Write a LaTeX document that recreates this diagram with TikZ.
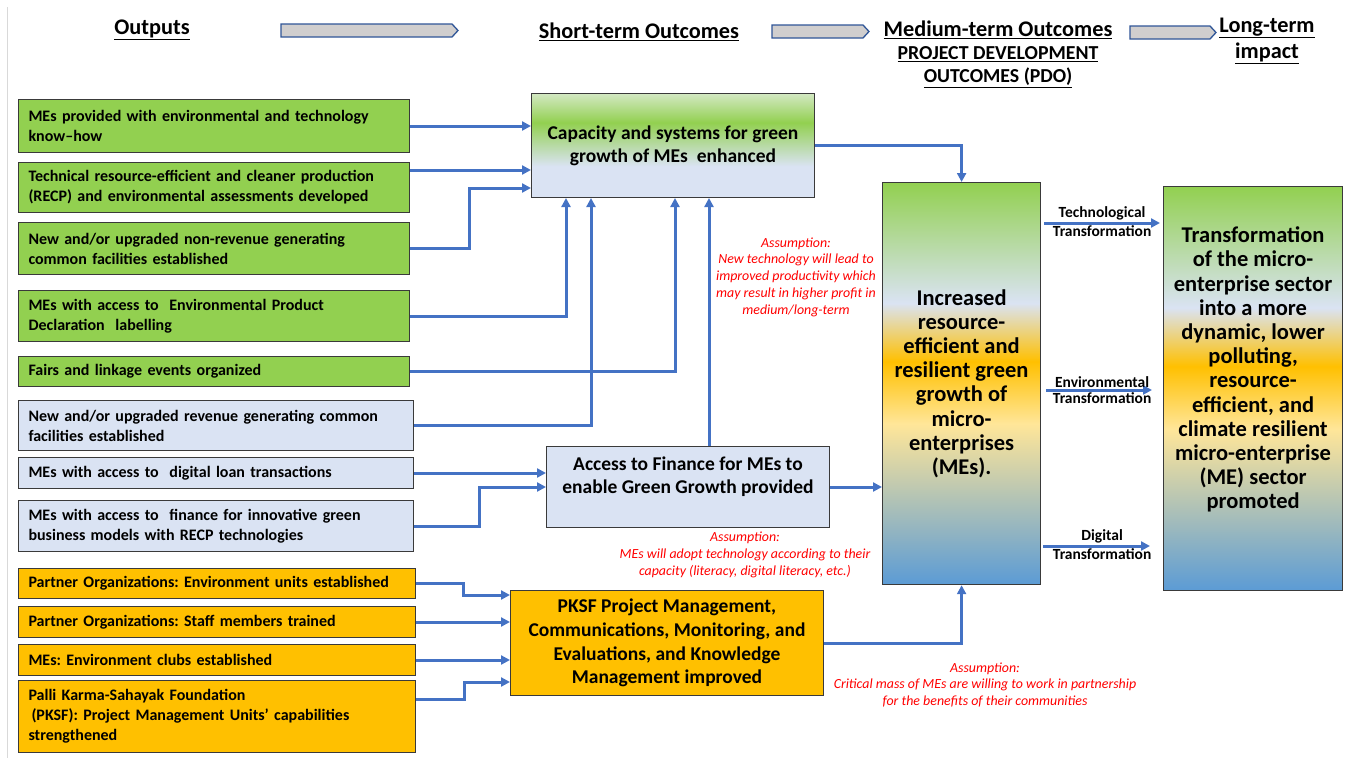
\documentclass[tikz,border=0pt]{standalone}
\usepackage{fontspec}
\setmainfont{Carlito}
\usetikzlibrary{arrows.meta}
\frenchspacing

\definecolor{greenbox}{HTML}{92D050}
\definecolor{palegreen}{HTML}{D3E8C3}
\definecolor{bluebox}{HTML}{DAE3F3}
\definecolor{goldbox}{HTML}{FFC000}
\definecolor{lightyellow}{HTML}{FFE699}
\definecolor{midblue}{HTML}{5B9BD5}
\definecolor{linkblue}{HTML}{4472C4}
\definecolor{hdrgray}{HTML}{D0CECE}
\definecolor{hdrblue}{HTML}{2F5597}
\definecolor{boxline}{HTML}{3A3A3A}

\pgfdeclareverticalshading{impactshade}{100bp}{color(0bp)=(midblue); color(25bp)=(midblue); color(45bp)=(lightyellow); color(52.75bp)=(goldbox); color(60bp)=(bluebox); color(75bp)=(greenbox); color(100bp)=(greenbox)}
\pgfdeclareverticalshading{capshade}{100bp}{color(0bp)=(bluebox); color(40bp)=(bluebox); color(61bp)=(greenbox); color(75bp)=(palegreen); color(100bp)=(palegreen)}

\begin{document}
\begin{tikzpicture}[x=1pt,y=-1pt,
  outbox/.style={draw=boxline, line width=1pt, anchor=north west, align=left,
    inner xsep=10pt, inner ysep=2pt, font=\fontsize{16}{20}\selectfont\bfseries},
  greenout/.style={outbox, fill=greenbox, text width=371pt},
  blueout/.style={outbox, fill=bluebox, text width=375pt},
  goldout/.style={outbox, fill=goldbox, text width=377pt},
  midbox/.style={draw=boxline, line width=1pt, anchor=north west, align=center,
    font=\fontsize{19.5}{23}\selectfont\bfseries},
  bigtext/.style={align=center, font=\fontsize{22.5}{24.2}\selectfont\bfseries},
  link/.style={draw=linkblue, line width=3pt, -{Triangle[length=9pt,width=9pt]}},
  tlabel/.style={font=\fontsize{15.5}{17}\selectfont\bfseries, inner sep=1pt},
  note/.style={text=red, align=center, font=\fontsize{13.9}{16.7}\selectfont\itshape},
  hdr/.style={align=center, font=\fontsize{22.3}{26}\selectfont\bfseries},
  hdrarrow/.style={draw=hdrblue, fill=hdrgray, line width=1.3pt}]

\useasboundingbox (0,0) rectangle (1345,758);
\draw[black!15, line width=1pt] (7,7) -- (7,758);

% headings
\node[hdr] (outputs) at (152,30) {\underline{Outputs}};
\node[hdr] (short) at (639,32) {\underline{Short-term Outcomes}};
\node[hdr] (medium) at (998,30) {\underline{Medium-term Outcomes}};
\node[align=center, font=\fontsize{19.8}{23}\selectfont\bfseries] (pdo) at (998,67)
  {\underline{PROJECT DEVELOPMENT}\\\underline{OUTCOMES (PDO)}};
\node[hdr] (long) at (1267,41) {\underline{Long-term}\\\underline{impact}};

\foreach \xa/\xb/\ya in {281/458/24, 772/869/25, 1130/1216/26}
{
  \draw[hdrarrow] (\xa,\ya) -- (\xb-6,\ya) -- (\xb,\ya+6.5) -- (\xb-6,\ya+13) -- (\xa,\ya+13) -- cycle;
}

% outputs
\node[greenout, minimum height=53pt] (o1) at (18,99) {MEs provided with environmental and technology\\know–how};
\node[greenout, minimum height=50pt] (o2) at (18,162) {Technical resource-efficient and cleaner production\\(RECP) and environmental assessments developed};
\node[greenout, minimum height=52pt] (o3) at (18,222) {New and/or upgraded non-revenue generating\\common facilities established};
\node[greenout, minimum height=51pt] (o4) at (18,290) {MEs with access to~ Environmental Product\\Declaration~ labelling};
\node[greenout, minimum height=30pt] (o5) at (18,356) {Fairs and linkage events organized};
\node[blueout, minimum height=50pt] (o6) at (18,400) {New and/or upgraded revenue generating common\\facilities established};
\node[blueout, minimum height=31pt] (o7) at (18,457) {MEs with access to~ digital loan transactions};
\node[blueout, minimum height=51pt] (o8) at (18,500) {MEs with access to~ finance for innovative green\\business models with RECP technologies};
\node[goldout, minimum height=30pt] (o9) at (18,568) {Partner Organizations: Environment units established};
\node[goldout, minimum height=31pt] (o10) at (18,606) {Partner Organizations: Staff members trained};
\node[goldout, minimum height=31pt] (o11) at (18,644) {MEs: Environment clubs established};
\node[goldout, minimum height=72pt] (o12) at (18,680) {Palli Karma-Sahayak Foundation\\\hspace*{3pt}(PKSF): Project Management Units’ capabilities\\strengthened};

% short-term outcomes
\node[midbox, shading=capshade, minimum width=283pt, minimum height=104pt] (cap) at (531,93)
  {Capacity and systems for green\\growth of MEs~ enhanced};
\node[midbox, fill=bluebox, minimum width=283pt, minimum height=81pt] (acc) at (546,446) {};
\node[align=center, font=\fontsize{19.5}{23}\selectfont\bfseries] (acclbl) at ([yshift=10pt]acc.center)
  {Access to Finance for MEs to\\enable Green Growth provided};
\node[midbox, fill=goldbox, minimum width=313pt, minimum height=105pt,
  font=\fontsize{19.5}{23.7}\selectfont\bfseries] (pk) at (510,590)
  {PKSF Project Management,\\Communications, Monitoring, and\\Evaluations, and Knowledge\\Management improved};

% medium-term and long-term
\node[draw=boxline, line width=1.2pt, anchor=north west, shading=impactshade,
  minimum width=158pt, minimum height=402pt, bigtext] (big) at (882,182)
  {Increased\\resource-\\efficient and\\resilient green\\growth of\\micro-\\enterprises\\(MEs).};
\node[draw=boxline, line width=1.2pt, anchor=north west, shading=impactshade,
  minimum width=179pt, minimum height=404pt] (rb) at (1163,186) {};
\node[bigtext, inner sep=0pt] (rblbl) at ([yshift=19pt]rb.center)
  {Transformation\\of the micro-\\enterprise sector\\into a more\\dynamic, lower\\polluting,\\resource-\\efficient, and\\climate resilient\\micro-enterprise\\(ME) sector\\promoted};

% links into capacity box
\draw[link] (o1.east) -- (o1.east -| cap.west);
\coordinate (o2out) at ([yshift=-8pt]o2.north east);
\draw[link] (o2out) -- (o2out -| cap.west);
\draw[link] (o3.east) -- ++(59,0) |- ([yshift=10pt]cap.south west);
\draw[link] (o4.east) -| ([xshift=35pt]cap.south west);
\draw[link] (o5.east) -| ([xshift=144pt]cap.south west);
\draw[link] (o6.east) -| ([xshift=60pt]cap.south west);
\draw[link] ([xshift=163pt]acc.north west) -- ([xshift=178pt]cap.south west);

% links into finance box
\draw[link] (o7.east) -- (o7.east -| acc.west);
\draw[link] (o8.east) -- ++(65,0) |- (acc.west);

% links into PKSF box
\draw[link] (o9.east) -- ++(47,0) |- ([yshift=-5pt]pk.north west);
\draw[link] (o10.east) -- (o10.east -| pk.west);
\draw[link] (o11.east) -- (o11.east -| pk.west);
\coordinate (o12out) at ([yshift=-19pt]o12.north east);
\draw[link] (o12out) -- ++(48,0) |- ([yshift=-92pt]pk.north west);

% links into medium-term box
\draw[link] (cap.east) -| (big.north);
\draw[link] (acc.east) -- (acc.east -| big.west);
\draw[link] (pk.east) -| (big.south);

% transformations
\coordinate (tt) at ([yshift=-41pt]big.north east);
\draw[link, shorten <=3pt, shorten >=3pt] (tt) -- (tt -| rb.west)
  node[midway, above, tlabel] (ttl) {Technological}
  node[midway, below, tlabel] (ttr) {Transformation};
\coordinate (et) at ([yshift=-208pt]big.north east);
\draw[link, shorten <=5pt, shorten >=11pt] (et) -- (et -| rb.west)
  node[midway, above, tlabel] (etl) {Environmental}
  node[midway, below, tlabel] (etr) {Transformation};
\coordinate (dt) at ([yshift=-364pt]big.north east);
\draw[link, shorten <=2pt, shorten >=13pt] (dt) -- (dt -| rb.west)
  node[midway, above, tlabel] (dtl) {Digital}
  node[midway, below, tlabel] (dtr) {Transformation};

% assumptions
\node[note] (as1) at (796,277) {Assumption:\\New technology will lead to\\improved productivity which\\may result in higher profit in\\medium/long-term};
\node[note] (as2) at (745,555) {Assumption:\\MEs will adopt technology according to their\\capacity (literacy, digital literacy, etc.)};
\node[note] (as3) at (985,685) {Assumption:\\Critical mass of MEs are willing to work in partnership\\for the benefits of their communities};

\end{tikzpicture}
\end{document}
